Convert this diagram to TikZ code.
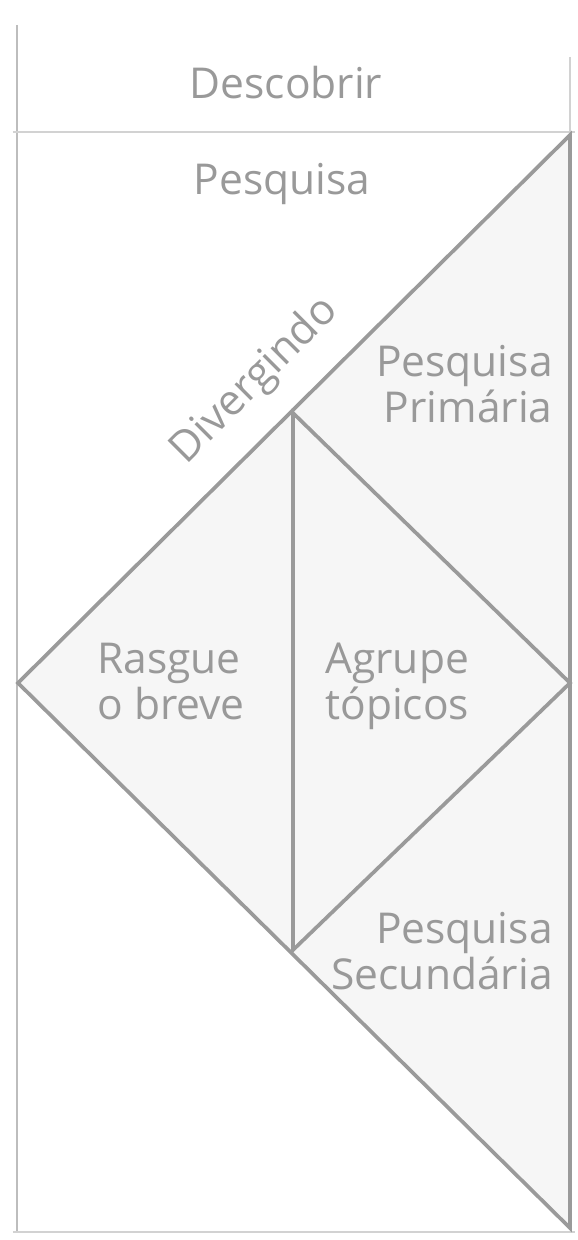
\documentclass[tikz,border=0pt]{standalone}
\usepackage{fontspec}
\setmainfont{Open Sans}
\definecolor{linegray}{HTML}{9A9A9A}
\definecolor{framegray}{HTML}{BDBDBD}
\definecolor{rulegray}{HTML}{D2D2D2}
\definecolor{fillgray}{HTML}{F6F6F6}
\definecolor{textgray}{HTML}{999999}
\begin{document}
\begin{tikzpicture}[
  lbl/.style={text=textgray, inner sep=0pt, font=\fontsize{24.2}{26.2}\selectfont},
  edge/.style={draw=linegray, line width=2.1pt, line join=miter},
  frame/.style={draw=framegray, line width=1.4pt},
  rule/.style={draw=rulegray, line width=1.5pt}]
  \useasboundingbox (0,0) rectangle (11.56,24.8);

  %name corners
  \coordinate (tr) at (11.4,22.1);
  \coordinate (lf) at (0.36,11.14);
  \coordinate (br) at (11.4,0.24);
  \coordinate (dt) at (5.86,16.54);
  \coordinate (db) at (5.86,5.8);
  \coordinate (dr) at (11.4,11.14);

  %draw shaded triangle
  \fill[fillgray] (tr) -- (lf) -- (br) -- cycle;

  %draw frame lines
  \draw[frame] (0.34,24.3) -- (0.34,0.16);
  \draw[rule] (0.26,22.16) -- (11.5,22.16);
  \draw[rule] (11.4,23.66) -- (11.4,22.16);
  \draw[rule] (0.26,0.16) -- (11.5,0.16);

  %draw triangle and diamond
  \draw[edge] (tr) -- (lf) -- (br) -- cycle;
  \draw[edge] (dt) -- (dr) -- (db) -- cycle;

  %draw labels
  \node[lbl, anchor=base] (descobrir) at (5.72,22.82) {Descobrir};
  \node[lbl, anchor=base] (pesquisa) at (5.64,20.9) {Pesquisa};
  \node[lbl, anchor=base, rotate=45] (divergindo) at (5.26,17.02) {Divergindo};
  \node[lbl, anchor=base east, align=right] (primaria) at (11.06,16.34) {Pesquisa\\Primária};
  \node[lbl, anchor=base west, align=left] (rasgue) at (1.94,10.4) {Rasgue\\o breve};
  \node[lbl, anchor=base west, align=left] (agrupe) at (6.5,10.4) {Agrupe\\tópicos};
  \node[lbl, anchor=base east, align=right] (secundaria) at (11.06,5.0) {Pesquisa\\Secundária};
\end{tikzpicture}
\end{document}
